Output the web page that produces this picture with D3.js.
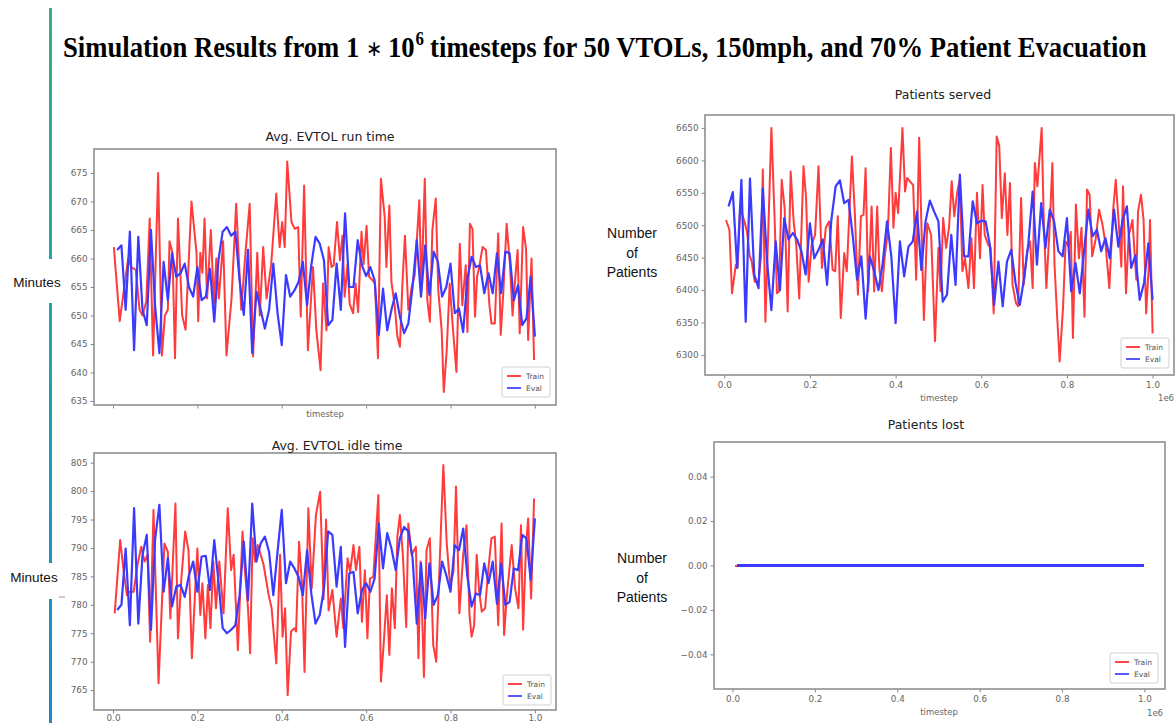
<!DOCTYPE html>
<html>
<head>
<meta charset="utf-8">
<script src="https://cdn.jsdelivr.net/npm/d3@7"></script>
<style>
  body { margin: 0; background: #fff; }
  svg { display: block; }
</style>
</head>
<body>
<svg id="chart" width="1175" height="723"></svg>
<script>
// ---- data (train: [timestep in thousands, value], eval: one value every 10k steps)
const runTrain = [[2,662],[16,649],[25,654],[36,660],[43,658.5],[54,658],[63,651],[70,650],[79,652.5],[87,667],[95,643],[107,675],[116,643],[123,650],[130,651],[134,663],[141,661],[147,642.5],[154,667],[164,650],[172,647.5],[186,670],[198,661],[202,649],[207,661],[212,657.5],[217,667],[223,653],[232,665],[239,652],[245,660],[251,653],[261,663],[269,643],[281,653],[292,669.6],[304,651],[314,661],[324,669.6],[332,642.8],[342,661],[348,650],[356,662],[364,653],[375,659],[387,671.4],[395,662],[401,666.4],[407,662],[413,677],[423,666.4],[431,665.2],[439,665.5],[445,649.8],[453,672.8],[462,643.9],[474,658.5],[482,647.4],[492,640.4],[498,655.6],[506,647.4],[511,662],[518,658.5],[523,658.8],[531,666.4],[538,659.7],[544,664],[549,653.3],[556,659],[561,652],[569,650.4],[575,655.6],[581,650.6],[589,664.7],[594,659],[601,665.7],[607,656.8],[615,656.2],[621,655.6],[628,642.5],[635,674],[644,667.3],[648,658.5],[655,669.3],[660,655.9],[668,651.5],[674,646.3],[680,644.5],[686,655.6],[692,664],[700,651],[708,655],[715,657],[726,670.2],[731,654.4],[739,674],[745,652.7],[751,648.9],[757,665],[765,670.5],[771,654.4],[779,647.4],[784,636.6],[791,643.9],[798,655.6],[806,647.4],[814,640.1],[822,662.6],[828,651.8],[836,658.8],[840,647.1],[846,666.1],[852,665.2],[858,649.8],[863,656.8],[868,658.5],[876,662],[884,661.5],[892,652],[897,648.6],[905,648.6],[913,664.4],[919,646.6],[925,653.9],[933,666.1],[941,658.8],[947,650],[953,656.2],[959,661.5],[964,646.9],[972,665.5],[979,661.7],[984,645.7],[992,660],[998,642.2]];

const runEval = [661.5,662.3,651,664.7,643.9,663.8,651,648.3,665,651.5,643.4,659.4,652.7,660.9,656.8,657.4,659.1,655,653.3,658.5,652.7,653.3,658.2,648.9,659.7,664.7,665.5,664,664.7,656.2,650.1,661.5,643.4,654.2,651,647.7,651,659.1,650.4,644.8,657.1,653.3,654.4,655.9,659.4,651.8,658.8,663.8,662.6,659.7,648.3,649.2,659.1,651,667.9,655,655,663.2,658.8,656.9,658.5,656.2,646.6,654.7,647.4,651,653.9,649.8,646.9,648.6,655,663.2,653.3,662.3,653.6,661.2,659.4,653.3,655,659.1,650.4,651.2,647.1,656.5,660.3,658.5,658.8,653.9,657.4,653.9,660.9,653.9,661.2,660.9,652.7,655.3,648.3,649.5,656.8,646.3];

const idleTrain = [[4,778.5],[17,791.4],[25,786.1],[33,781.7],[39,782.3],[49,782.3],[58,787],[67,790.2],[75,787.6],[82,788.8],[88,773.5],[96,796.7],[108,766.2],[122,790.8],[130,789.3],[136,777.6],[148,797.8],[154,774.1],[162,784.6],[171,792.9],[179,789.6],[187,770.6],[195,782.9],[200,789.9],[207,778.2],[212,783.8],[219,774.1],[225,783.5],[231,775.9],[238,787.6],[244,779.4],[252,787.6],[262,778.5],[272,797],[280,786.1],[286,788.8],[296,772],[307,792.9],[313,785.8],[320,779.4],[325,771.5],[331,791.7],[337,787.6],[343,790.5],[350,788.8],[357,787],[369,781.7],[376,779.4],[387,769.7],[396,788.8],[402,774.4],[408,779.4],[414,764.1],[422,775.3],[430,775.9],[434,775.3],[441,791.1],[448,783.5],[454,768.2],[463,797],[471,782.9],[481,795.8],[491,799.9],[499,781],[505,795],[511,779],[520,782.6],[530,774.4],[540,781.1],[546,775.9],[556,788.2],[562,785.8],[570,790.5],[576,786.1],[584,790.2],[590,777],[597,786.1],[603,774.1],[609,784.6],[617,784.9],[629,799.3],[635,766.5],[642,773.5],[649,781.7],[655,771.2],[661,782.9],[668,775.9],[674,792],[680,795.8],[687,788.8],[695,776.1],[700,794.3],[708,788.8],[718,790.2],[724,770.6],[729,787.6],[737,767.3],[743,789.6],[751,791.7],[759,772.9],[766,770],[773,784.9],[783,804.6],[791,790.8],[799,783.5],[807,785.8],[813,800.8],[821,778.5],[830,788.8],[838,794],[845,778.2],[850,774.4],[856,776.4],[862,788.8],[868,782.3],[874,778.8],[882,779.4],[889,785.8],[897,791.7],[905,792],[913,776.4],[921,794.3],[927,774.7],[933,781.1],[945,790.5],[953,782.9],[961,779.4],[967,794],[972,775.6],[979,790.5],[984,795.2],[991,781.1],[998,798.7]];

const idleEval = [779.1,780,789.9,776.4,797,776.7,788.8,792.3,775.6,791.7,797.6,782.3,788.2,779.7,783.2,783.5,781.4,785.2,787.6,782.3,788.5,788.6,782.6,791.4,784.1,775.9,775,775.6,776.4,781.7,791.1,780.8,797.8,787.6,790.8,792,789.3,781.7,789.3,796.7,783.8,787.6,786.4,784.9,781.7,789.6,782,776.7,778.2,782.9,792.9,792.3,783.2,790.2,772.6,785.5,785.8,778.5,782.6,783.8,782.3,784.6,794.3,786.4,792.6,789.9,786.1,791.7,793.7,792.9,788.2,776.7,787.3,777.6,787.3,780,781.7,787.6,785.2,782.3,790.5,789.6,793.4,784.9,779.7,782,781.7,787.3,783.8,787.6,780.2,787.3,780,780.5,786.4,786.1,792.3,791.7,784.4,795.2];

const servedTrain = [[4,6508],[12,6493],[18,6395],[27,6439],[31,6434],[37,6526],[47,6506],[53,6490],[59,6454],[64,6444],[71,6413],[80,6413],[86,6454],[90,6586],[96,6351],[103,6496],[110,6650],[117,6521],[123,6395],[128,6398],[134,6570],[141,6526],[148,6367],[155,6583],[162,6506],[168,6470],[175,6387],[185,6591],[191,6542],[197,6413],[204,6470],[212,6485],[220,6591],[228,6434],[237,6496],[245,6506],[253,6431],[259,6429],[265,6514],[272,6357],[280,6457],[286,6429],[298,6606],[305,6516],[312,6393],[319,6514],[325,6516],[330,6588],[336,6398],[344,6529],[350,6398],[357,6529],[362,6434],[368,6398],[375,6454],[382,6490],[389,6619],[395,6496],[400,6550],[406,6519],[416,6650],[422,6552],[427,6573],[437,6565],[441,6562],[448,6416],[455,6635],[466,6354],[474,6503],[483,6485],[492,6321],[500,6465],[505,6398],[511,6511],[518,6465],[525,6498],[531,6568],[537,6514],[544,6552],[550,6570],[556,6429],[562,6449],[570,6403],[577,6480],[583,6403],[590,6550],[597,6449],[603,6562],[608,6485],[616,6470],[622,6465],[629,6364],[636,6637],[642,6622],[648,6511],[655,6580],[661,6485],[667,6565],[673,6408],[681,6380],[686,6375],[693,6542],[699,6408],[707,6460],[714,6475],[720,6403],[725,6596],[731,6560],[741,6650],[746,6506],[752,6403],[760,6501],[766,6596],[771,6439],[777,6362],[783,6290],[791,6374],[797,6475],[804,6467],[809,6490],[814,6326],[821,6532],[828,6449],[834,6496],[841,6359],[847,6555],[853,6547],[859,6452],[867,6478],[875,6524],[883,6501],[890,6472],[899,6403],[908,6524],[914,6570],[921,6503],[927,6436],[931,6560],[938,6395],[944,6483],[953,6508],[962,6416],[966,6521],[973,6547],[979,6508],[985,6364],[991,6436],[994,6508],[1000,6333]];

const servedEval = [6529,6551,6434,6570,6351,6572,6424,6403,6557,6444,6369,6475,6400,6511,6478,6488,6478,6460,6424,6503,6449,6462,6478,6408,6508,6560,6569,6534,6539,6483,6416,6452,6356,6452,6429,6400,6442,6506,6452,6349,6475,6421,6467,6475,6521,6431,6506,6538,6521,6506,6382,6393,6485,6408,6578,6452,6452,6537,6503,6507,6506,6470,6377,6444,6375,6444,6462,6411,6377,6418,6472,6552,6439,6534,6465,6524,6506,6460,6452,6511,6398,6442,6395,6460,6524,6483,6493,6460,6480,6449,6524,6467,6508,6529,6434,6454,6385,6411,6472,6385];

const lostTrain = [[5,0],[100,0],[200,0],[300,0],[400,0],[500,0],[600,0],[700,0],[800,0],[900,0],[1000,0]];
const lostEval = [0,0,0,0,0,0,0,0,0,0,0,0,0,0,0,0,0,0,0,0,0,0,0,0,0,0,0,0,0,0,0,0,0,0,0,0,0,0,0,0,0,0,0,0,0,0,0,0,0,0,0,0,0,0,0,0,0,0,0,0,0,0,0,0,0,0,0,0,0,0,0,0,0,0,0,0,0,0,0,0,0,0,0,0,0,0,0,0,0,0,0,0,0,0,0,0,0,0,0,0];

const xTicks = [0, 0.2, 0.4, 0.6, 0.8, 1.0];
const runTicks = [635, 640, 645, 650, 655, 660, 665, 670, 675];
const idleTicks = [765, 770, 775, 780, 785, 790, 795, 800, 805];
const servedTicks = [6300, 6350, 6400, 6450, 6500, 6550, 6600, 6650];
const lostTicks = [-0.04, -0.02, 0, 0.02, 0.04];
const seriesNames = ['Train', 'Eval'];

// ---- layout
const svg = d3.select('#chart');
const RED = '#ff2626', BLUE = '#3b3bff';

const panels = [
  {title: 'Avg. EVTOL run time', train: runTrain, evals: runEval, ticks: runTicks, fmt: d3.format('d'),
   left: 94, right: 556, top: 149, bottom: 405, yDom: [634.3, 679.2], xLabels: false, pad: 3,
   tx: 330, ty: 141, step: [325, 417], e6: null, leg: [502, 367]},
  {title: 'Avg. EVTOL idle time', train: idleTrain, evals: idleEval, ticks: idleTicks, fmt: d3.format('d'),
   left: 94, right: 556, top: 453, bottom: 710, yDom: [761.5, 806.7], xLabels: true, pad: 1.5,
   tx: 337, ty: 450, step: null, e6: null, leg: [503, 675]},
  {title: 'Patients served', train: servedTrain, evals: servedEval, ticks: servedTicks, fmt: d3.format('d'),
   left: 705, right: 1174, top: 115, bottom: 375, yDom: [6269, 6670], xLabels: true, pad: 3,
   tx: 943, ty: 99, step: [939, 401], e6: [1166, 401], leg: [1121, 338]},
  {title: 'Patients lost', train: lostTrain, evals: lostEval, ticks: lostTicks, fmt: d3.format('.2f'),
   left: 714, right: 1165, top: 442, bottom: 689, yDom: [-0.0556, 0.0556], xLabels: true, pad: 3,
   tx: 926, ty: 429, step: [939, 715], e6: [1155, 716], leg: [1110, 653], flat: true}
];

panels.forEach(function(p) {
  var x = d3.scaleLinear().domain([-0.045, 1.05]).range([p.left, p.right]);
  var y = d3.scaleLinear().domain(p.yDom).range([p.bottom, p.top]);
  var g = svg.append('g');

  g.append('rect')
    .attr('x', p.left).attr('y', p.top)
    .attr('width', p.right - p.left).attr('height', p.bottom - p.top)
    .attr('fill', '#fff').attr('stroke', '#9c9c9c').attr('stroke-width', 1.8);

  var gx = g.append('g')
    .attr('transform', 'translate(0,' + p.bottom + ')')
    .call(d3.axisBottom(x).tickValues(xTicks).tickSize(3.5).tickPadding(p.pad)
      .tickFormat(p.xLabels ? d3.format('.1f') : ''));
  var gy = g.append('g')
    .attr('transform', 'translate(' + p.left + ',0)')
    .call(d3.axisLeft(y).tickValues(p.ticks).tickSize(3.5).tickPadding(3).tickFormat(p.fmt));
  [gx, gy].forEach(function(a) {
    a.select('.domain').remove();
    a.selectAll('line').attr('stroke', '#888');
    a.selectAll('text').attr('fill', '#666').style('font-family', 'DejaVu Sans').style('font-size', '8.8px');
  });

  var line = d3.line().x(function(d) { return x(d[0]); }).y(function(d) { return y(d[1]); });
  var trainPts = p.train.map(function(d) { return [d[0] / 1000, d[1]]; });
  var evalPts = p.evals.map(function(v, i) { return [(i + 1) / 100, v]; });

  g.append('path').attr('d', line(trainPts))
    .attr('fill', 'none').attr('stroke', RED).attr('stroke-width', 2)
    .attr('stroke-opacity', 0.9).attr('stroke-linejoin', 'round')
    .attr('shape-rendering', p.flat ? 'crispEdges' : null);
  g.append('path').attr('d', line(evalPts))
    .attr('fill', 'none').attr('stroke', BLUE).attr('stroke-width', p.flat ? 3 : 2.2)
    .attr('stroke-linejoin', 'round')
    .attr('shape-rendering', p.flat ? 'crispEdges' : null);

  g.append('text').attr('x', p.tx).attr('y', p.ty).attr('text-anchor', 'middle')
    .style('font-family', 'DejaVu Sans').style('font-size', '12.5px').attr('fill', '#222')
    .text(p.title);

  if (p.step) {
    g.append('text').attr('x', p.step[0]).attr('y', p.step[1]).attr('text-anchor', 'middle')
      .style('font-family', 'DejaVu Sans').style('font-size', '8.5px').attr('fill', '#666')
      .text('timestep');
  }
  if (p.e6) {
    g.append('text').attr('x', p.e6[0]).attr('y', p.e6[1]).attr('text-anchor', 'middle')
      .style('font-family', 'DejaVu Sans').style('font-size', '8.5px').attr('fill', '#666')
      .text('1e6');
  }

  // legend
  var lg = g.append('g').attr('transform', 'translate(' + p.leg[0] + ',' + p.leg[1] + ')');
  lg.append('rect').attr('width', 48).attr('height', 30).attr('rx', 2)
    .attr('fill', '#fff').attr('stroke', '#d0d0d0');
  seriesNames.forEach(function(name, i) {
    var yy = 9 + i * 12;
    lg.append('line').attr('x1', 5).attr('x2', 19).attr('y1', yy).attr('y2', yy)
      .attr('stroke', i === 0 ? RED : BLUE).attr('stroke-width', 2).attr('stroke-opacity', 0.85);
    lg.append('text').attr('x', 24).attr('y', yy + 3)
      .style('font-family', 'DejaVu Sans').style('font-size', '7.5px').attr('fill', '#555')
      .text(name);
  });
});

// ---- slide furniture: title, side labels, accent bar
var grad = svg.append('defs').append('linearGradient')
  .attr('id', 'bar').attr('gradientUnits', 'userSpaceOnUse')
  .attr('x1', 0).attr('y1', 0).attr('x2', 0).attr('y2', 723);
grad.append('stop').attr('offset', 0).attr('stop-color', '#3aae84');
grad.append('stop').attr('offset', 0.45).attr('stop-color', '#1aa6b2');
grad.append('stop').attr('offset', 1).attr('stop-color', '#1f86cc');
[[8, 259], [303, 563], [599, 723]].forEach(function(s) {
  svg.append('rect').attr('x', 49).attr('y', s[0]).attr('width', 3).attr('height', s[1] - s[0])
    .attr('fill', 'url(#bar)');
});
svg.append('line').attr('x1', 59).attr('x2', 65).attr('y1', 597).attr('y2', 597)
  .attr('stroke', '#999').attr('stroke-width', 1);

// title: pieces laid out one after another, then squeezed to the slide width
var titleParts = [
  {t: 'Simulation Results from 1', size: 30, bold: true, dy: 0, gap: 7},
  {t: '\u2217', size: 22, bold: false, dy: -1, gap: 7},
  {t: '10', size: 30, bold: true, dy: 0, gap: 1},
  {t: '6', size: 19, bold: true, dy: -12, gap: 7},
  {t: 'timesteps for 50 VTOLs, 150mph, and 70% Patient Evacuation', size: 30, bold: true, dy: 0, gap: 0}
];
var tWrap = svg.append('g').attr('transform', 'translate(63,57)');
var tInner = tWrap.append('g');
var cursor = 0;
titleParts.forEach(function(part) {
  var el = tInner.append('text').attr('x', cursor).attr('y', part.dy)
    .style('font-family', 'Liberation Serif, serif')
    .style('font-weight', part.bold ? 'bold' : 'normal')
    .style('font-size', part.size + 'px').attr('fill', '#000')
    .text(part.t);
  cursor += el.node().getComputedTextLength() + part.gap;
});
tInner.attr('transform', 'scale(' + (1084 / cursor) + ',1)');

[[37, 287], [34, 582]].forEach(function(pos) {
  svg.append('text').attr('x', pos[0]).attr('y', pos[1]).attr('text-anchor', 'middle')
    .style('font-family', 'Liberation Sans, Arial, sans-serif').style('font-size', '13.5px')
    .attr('fill', '#111').text('Minutes');
});

[[632, 233], [642, 558]].forEach(function(pos) {
  var t = svg.append('text').attr('text-anchor', 'middle')
    .style('font-family', 'Liberation Sans, Arial, sans-serif').style('font-size', '14px')
    .attr('fill', '#111');
  ['Number', 'of', 'Patients'].forEach(function(w, i) {
    t.append('tspan').attr('x', pos[0]).attr('y', pos[1] + 5 + i * 19.5).text(w);
  });
});
</script>
</body>
</html>
